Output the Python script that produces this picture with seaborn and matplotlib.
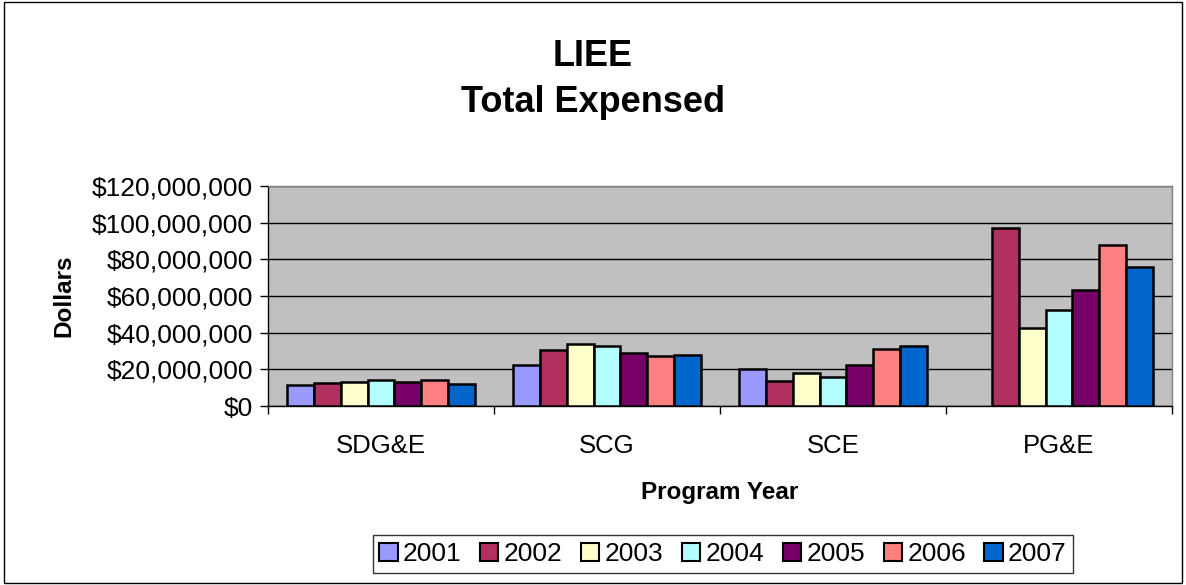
import numpy as np
import pandas as pd
import matplotlib
matplotlib.use("Agg")
import matplotlib.pyplot as plt
import seaborn as sns
from matplotlib.ticker import FuncFormatter, FixedLocator

categories = ["SDG&E", "SCG", "SCE", "PG&E"]
years = ["2001", "2002", "2003", "2004", "2005", "2006", "2007"]
# values in millions of dollars
v2001 = [11.5, 22.4, 20.4, np.nan]
v2002 = [12.4, 30.5, 13.5, 97.0]
v2003 = [12.9, 33.7, 18.1, 42.5]
v2004 = [14.2, 32.5, 15.7, 52.2]
v2005 = [12.9, 28.8, 22.4, 63.1]
v2006 = [14.2, 27.2, 31.2, 87.9]
v2007 = [11.9, 27.9, 32.5, 75.7]
series = [v2001, v2002, v2003, v2004, v2005, v2006, v2007]
colors = ["#9999FF", "#B03060", "#FFFFCC", "#B3FFFF", "#760066", "#FF8080", "#0066CC"]

rows = []
for y, vals in zip(years, series):
    for c, v in zip(categories, vals):
        rows.append({"Company": c, "Year": y, "Value": v * 1e6})
df = pd.DataFrame(rows)

sns.set_theme(style="white")
plt.rcParams['font.family'] = ['Liberation Sans', 'DejaVu Sans']

fig = plt.figure(figsize=(11.86, 5.85), dpi=100)
ax = fig.add_axes([268/1186, 1-406/585, (1172-268)/1186, (406-186)/585])

sns.barplot(data=df, x="Company", y="Value", hue="Year", order=categories,
            hue_order=years, palette=colors, width=0.83, edgecolor="black",
            linewidth=1.8, saturation=1, ax=ax, errorbar=None, zorder=3)

ax.set_facecolor("#C0C0C0")
ax.set_ylim(0, 120e6)
ax.set_xlim(-0.5, 3.5)
ax.set_yticks(np.arange(0, 120e6 + 1, 20e6))
ax.yaxis.set_major_formatter(FuncFormatter(lambda v, p: "${:,.0f}".format(v)))
ax.grid(axis="y", color="black", linewidth=1, zorder=0)
ax.set_axisbelow(True)
for s in ["top", "right"]:
    ax.spines[s].set_color("#808080")
for s in ["left", "bottom"]:
    ax.spines[s].set_color("black")
for s in ax.spines.values():
    s.set_linewidth(1)

ax.tick_params(axis="y", which="major", direction="out", length=6, width=1,
               color="black", labelsize=19, left=True, pad=5, labelcolor="black")
ax.tick_params(axis="x", which="major", length=0, labelsize=18.5, pad=20, labelcolor="black")
ax.xaxis.set_minor_locator(FixedLocator([-0.5, 0.5, 1.5, 2.5, 3.5]))
ax.tick_params(axis="x", which="minor", direction="out", length=6, width=1,
               color="black", bottom=True)

ax.set_xlabel("Program Year", fontsize=17.5, fontweight="bold", labelpad=17, color="black")
ax.set_ylabel("Dollars", fontsize=17.5, fontweight="bold", labelpad=12, color="black")

fig.text(0.5, 1-57/585, "LIEE", ha="center", va="center", fontsize=26,
         fontweight="bold", color="black")
fig.text(0.5, 1-102/585, "Total Expensed", ha="center", va="center", fontsize=26,
         fontweight="bold", color="black")

leg = ax.legend(loc="center", bbox_to_anchor=((378+1068)/2/1186, 1-554/585),
                bbox_transform=fig.transFigure, ncol=7, frameon=True, fontsize=19,
                handlelength=0.7, handleheight=0.7, handletextpad=0.2,
                columnspacing=0.7, borderpad=0.25, fancybox=False)
leg.get_frame().set_edgecolor("black")
leg.get_frame().set_linewidth(1)
for t in leg.get_texts():
    t.set_color("black")
for h in leg.legend_handles:
    h.set_edgecolor("black")
    h.set_linewidth(1.5)

border = plt.Rectangle((0.003, 0.003), 0.994, 0.994, transform=fig.transFigure,
                       fill=False, edgecolor="black", linewidth=1)
fig.patches.append(border)

fig.savefig("out.png", dpi=100, facecolor="white")
